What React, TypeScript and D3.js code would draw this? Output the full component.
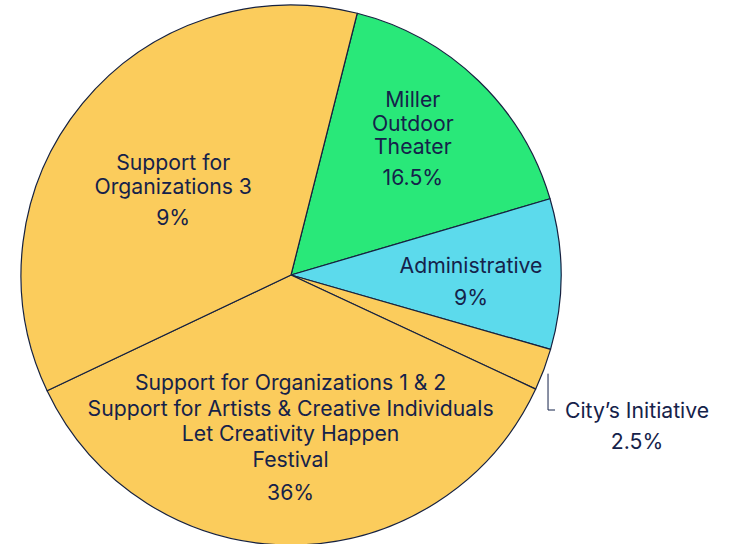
import React from "react";
import * as d3 from "d3";

const categories = [
  "Miller Outdoor Theater",
  "Administrative",
  "City's Initiative",
  "Support for Organizations 1 & 2 / Artists / Festival",
  "Support for Organizations 3",
];
const values = [16.5, 9, 2.5, 36, 36];
const labelLines = [
  ["Miller", "Outdoor", "Theater"],
  ["Administrative"],
  ["City\u2019s Initiative"],
  [
    "Support for Organizations 1 & 2",
    "Support for Artists & Creative Individuals",
    "Let Creativity Happen",
    "Festival",
  ],
  ["Support for", "Organizations 3"],
];
const percentLabels = ["16.5%", "9%", "2.5%", "36%", "9%"];
const colors = ["#29E879", "#5CDAEC", "#FBCC5C", "#FBCC5C", "#FBCC5C"];

const W = 730;
const H = 544;
const cx = 291;
const cy = 275;
const R = 270;
const startDeg = 14.2;
const textColor = "#15224A";
const FONT = "Inter, 'Noto Sans', sans-serif";
const FS = 21.2;

// label anchor (center of text block) per slice
const labelRadius = [180, 180, 0, 162, 146];
const labelShift: [number, number][] = [
  [-3, -7],
  [0, 7],
  [0, 0],
  [-1, 0],
  [-5, 7],
];
const lineHeights = [23.5, 26, 26, 25.5, 23.5];
const pctGaps = [31, 32, 31, 33, 31];

export default function App() {
  const pie = d3
    .pie<number>()
    .sort(null)
    .value((d) => d)
    .startAngle((startDeg * Math.PI) / 180)
    .endAngle((startDeg * Math.PI) / 180 + 2 * Math.PI);
  const arcs = pie(values);
  const arc = d3.arc<d3.PieArcDatum<number>>().innerRadius(0).outerRadius(R);

  return (
    <div style={{ position: "absolute", left: 0, top: 0 }}>
      <svg width={W} height={H} style={{ display: "block" }}>
        <rect width={W} height={H} fill="#ffffff" />
        <g transform={`translate(${cx},${cy})`}>
          {arcs.map((a, i) => (
            <path
              key={i}
              d={arc(a) || ""}
              fill={colors[i]}
              stroke="#16213F"
              strokeWidth={1.2}
              strokeLinejoin="round"
            />
          ))}
          {arcs.map((a, i) => {
            const mid = (a.startAngle + a.endAngle) / 2;
            const lines = labelLines[i];
            if (i === 2) {
              const r0 = R + 6;
              const x0 = Math.sin(mid) * r0 - 1.5;
              const y0 = -Math.cos(mid) * r0 + 2;
              const yEnd = 135;
              const tx = x0 + 89;
              return (
                <g key={i}>
                  <path
                    d={`M${x0},${y0}V${yEnd}H${x0 + 7}`}
                    fill="none"
                    stroke={textColor}
                    strokeWidth={1}
                  />
                  <text
                    x={tx}
                    y={yEnd}
                    textAnchor="middle"
                    dominantBaseline="central"
                    fontFamily={FONT}
                    fontSize={FS}
                    fill={textColor}
                  >
                    {lines[0]}
                  </text>
                  <text
                    x={tx}
                    y={yEnd + pctGaps[i]}
                    textAnchor="middle"
                    dominantBaseline="central"
                    fontFamily={FONT}
                    fontSize={FS}
                    fill={textColor}
                  >
                    {percentLabels[i]}
                  </text>
                </g>
              );
            }
            const lr = labelRadius[i];
            const ax = Math.sin(mid) * lr + labelShift[i][0];
            const ay = -Math.cos(mid) * lr + labelShift[i][1];
            const lineH = lineHeights[i];
            const pctGap = pctGaps[i];
            const blockH = (lines.length - 1) * lineH + pctGap;
            const top = ay - blockH / 2;
            return (
              <g key={i}>
                {lines.map((t, j) => (
                  <text
                    key={j}
                    x={ax}
                    y={top + j * lineH}
                    textAnchor="middle"
                    dominantBaseline="central"
                    fontFamily={FONT}
                    fontSize={FS}
                    fill={textColor}
                  >
                    {t}
                  </text>
                ))}
                <text
                  x={ax}
                  y={top + (lines.length - 1) * lineH + pctGap}
                  textAnchor="middle"
                  dominantBaseline="central"
                  fontFamily={FONT}
                  fontSize={FS}
                  fill={textColor}
                >
                  {percentLabels[i]}
                </text>
              </g>
            );
          })}
        </g>
      </svg>
    </div>
  );
}
